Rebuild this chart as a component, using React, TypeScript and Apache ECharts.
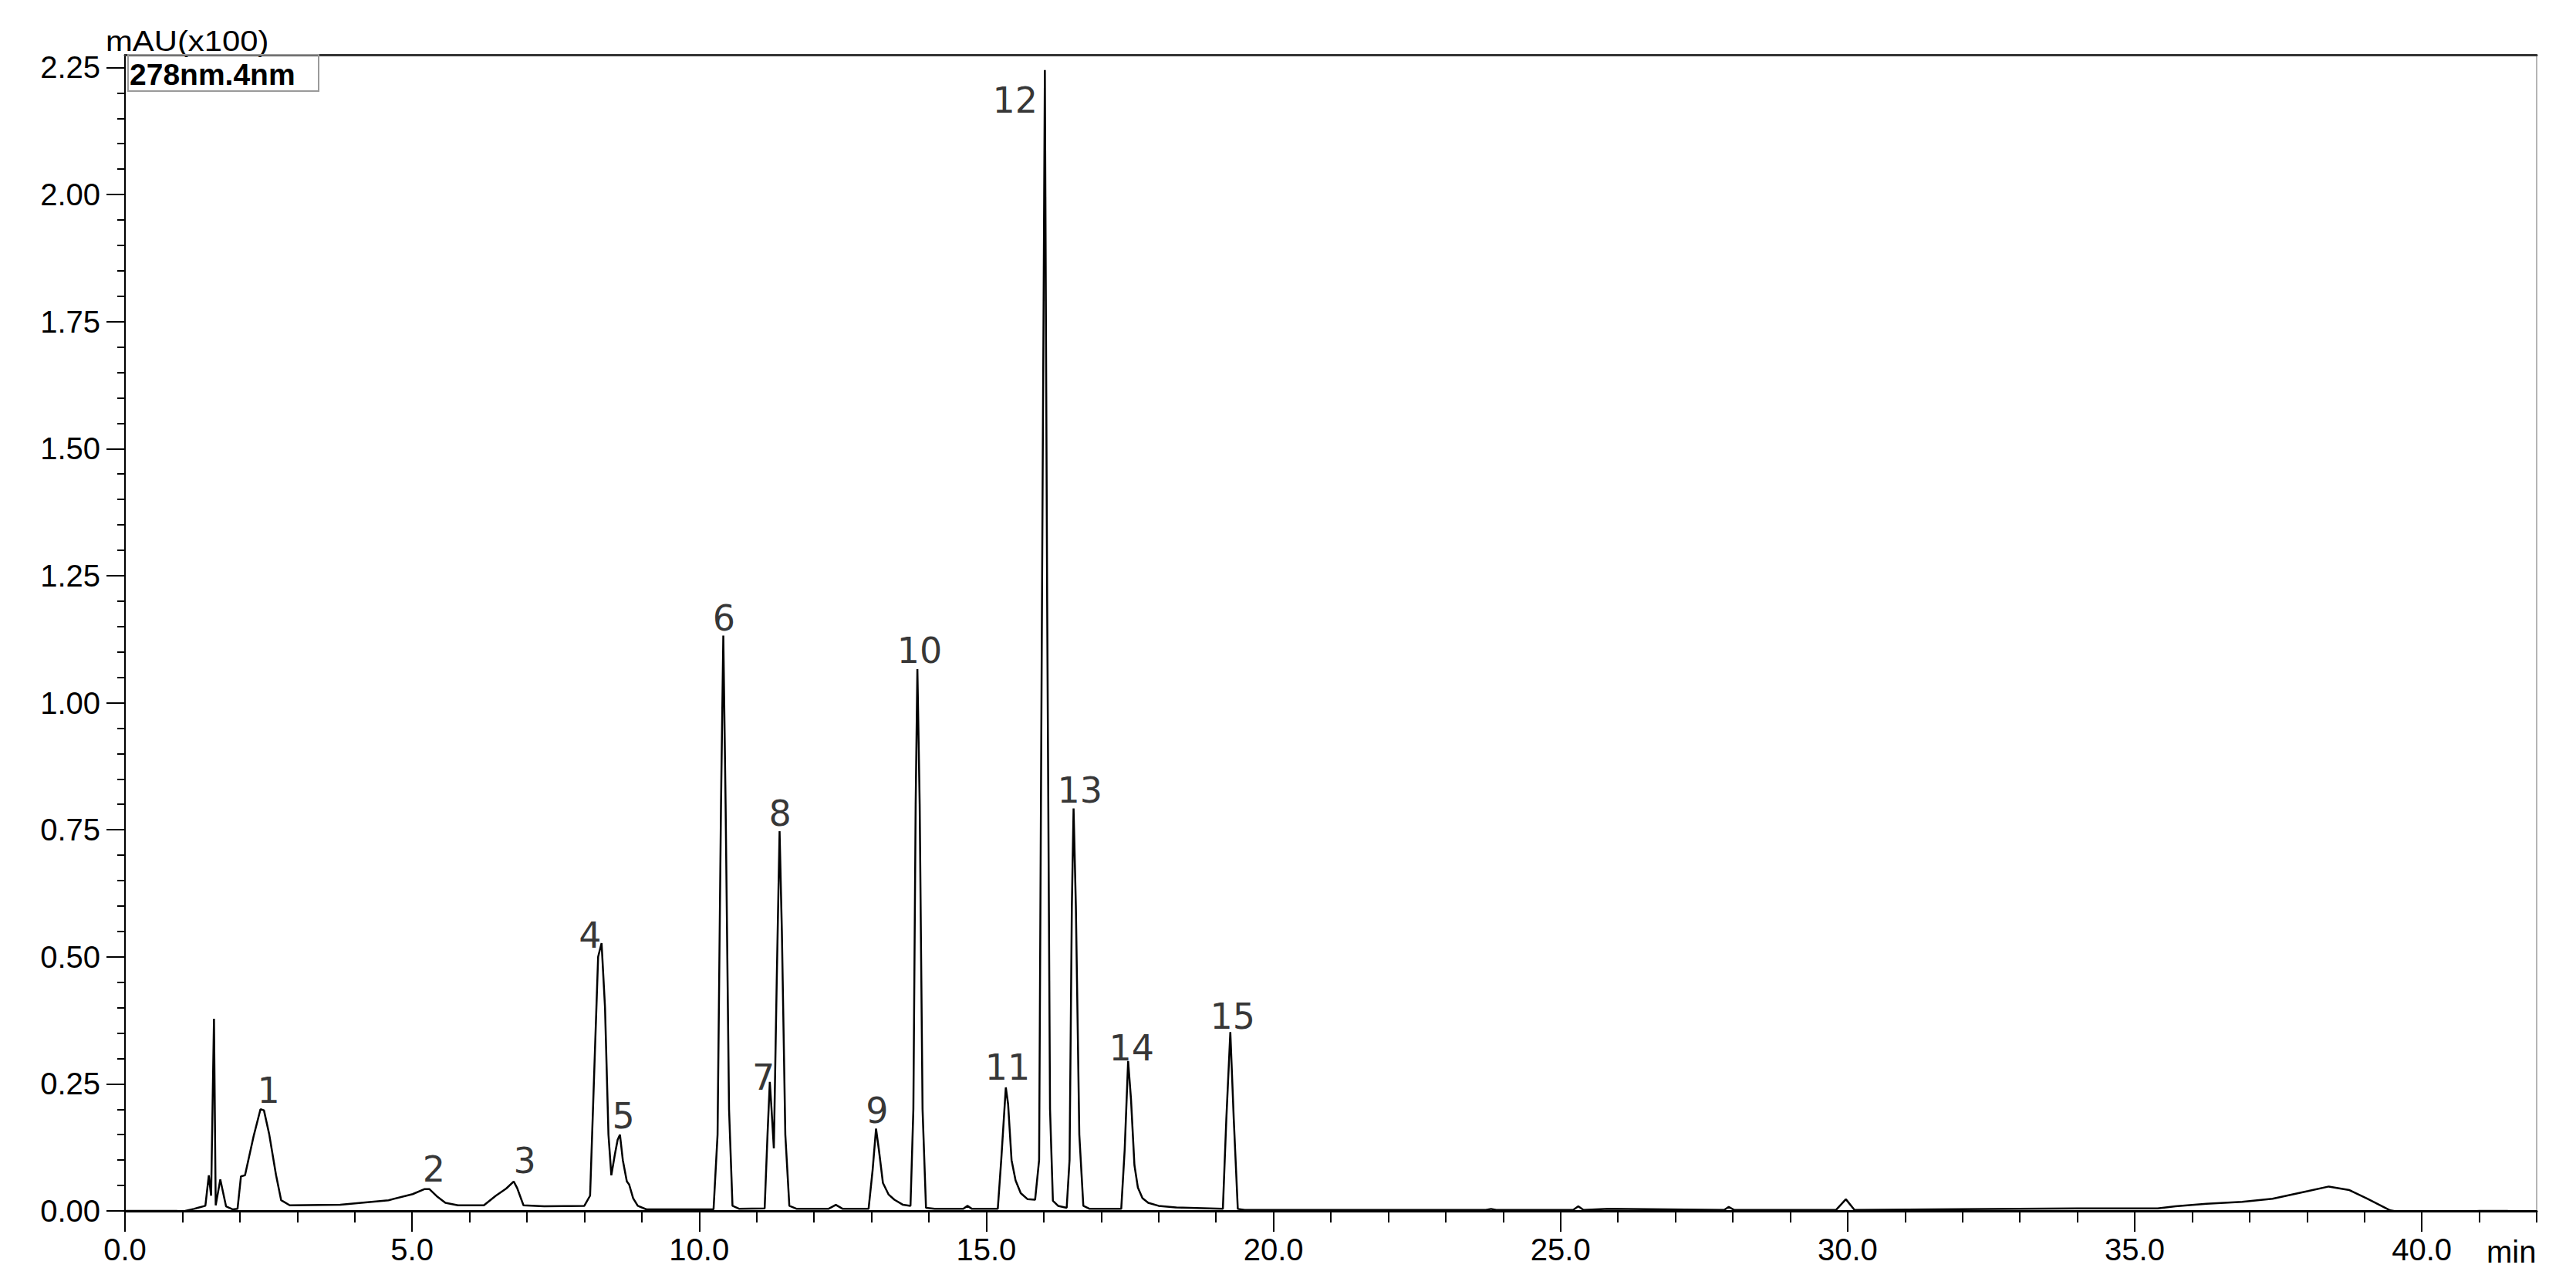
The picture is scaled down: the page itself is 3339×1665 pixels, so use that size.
import React, { useEffect, useRef } from "react";
import * as echarts from "echarts";

// Chromatogram trace (retention time in min, absorbance in mAU x100)
const traceTime = [
  0.0, 0.9, 0.98, 1.05, 1.2, 1.4, 1.46, 1.5, 1.55, 1.58, 1.66, 1.76, 1.88, 1.96, 2.02, 2.09,
  2.24, 2.36, 2.42, 2.51, 2.63, 2.72, 2.87, 3.75, 4.59, 5.01, 5.22, 5.3, 5.43, 5.58, 5.8, 6.25,
  6.46, 6.64, 6.77, 6.83, 6.94, 7.3, 8.0, 8.1, 8.18, 8.24, 8.3, 8.36, 8.42, 8.47, 8.53, 8.58,
  8.62, 8.67, 8.74, 8.78, 8.85, 8.93, 9.08, 10.25, 10.32, 10.38, 10.42, 10.46, 10.52, 10.58,
  10.7, 11.14, 11.19, 11.23, 11.26, 11.3, 11.35, 11.4, 11.44, 11.5, 11.57, 11.7, 12.25, 12.38,
  12.5, 12.95, 13.02, 13.08, 13.13, 13.2, 13.3, 13.4, 13.55, 13.68, 13.73, 13.77, 13.8, 13.84,
  13.89, 13.95, 14.1, 14.6, 14.67, 14.75, 15.2, 15.26, 15.34, 15.38, 15.44, 15.51, 15.6, 15.72,
  15.85, 15.92, 15.97, 16.02, 16.06, 16.11, 16.16, 16.25, 16.4, 16.45, 16.49, 16.52, 16.56,
  16.62, 16.69, 16.8, 17.35, 17.41, 17.47, 17.52, 17.58, 17.64, 17.72, 17.82, 18.0, 18.3,
  19.12, 19.18, 19.25, 19.31, 19.38, 19.5, 23.7, 23.79, 23.88, 25.22, 25.31, 25.4, 25.84,
  27.85, 27.93, 28.02, 29.8, 29.97, 30.12, 34.0, 35.4, 35.71, 36.25, 36.87, 37.4, 38.02, 38.38,
  38.74, 39.05, 39.45, 39.72, 40.07, 40.43, 40.69, 41.0, 41.5,
];
const traceSignal = [
  0.0, 0.0, -0.004, 0.0, 0.004, 0.01, 0.07, 0.03, 0.378, 0.011, 0.062, 0.009, 0.003, 0.004,
  0.068, 0.07, 0.147, 0.2, 0.198, 0.152, 0.071, 0.021, 0.011, 0.012, 0.021, 0.033, 0.043, 0.043,
  0.029, 0.016, 0.011, 0.011, 0.03, 0.044, 0.058, 0.045, 0.011, 0.009, 0.01, 0.03, 0.3, 0.5,
  0.527, 0.4, 0.15, 0.07, 0.11, 0.14, 0.15, 0.1, 0.058, 0.052, 0.025, 0.01, 0.003, 0.003, 0.15,
  0.8, 1.132, 0.8, 0.2, 0.01, 0.004, 0.005, 0.15, 0.254, 0.2, 0.123, 0.45, 0.747, 0.55, 0.15,
  0.01, 0.004, 0.004, 0.012, 0.004, 0.004, 0.08, 0.162, 0.12, 0.055, 0.032, 0.022, 0.012, 0.01,
  0.2, 0.8, 1.066, 0.8, 0.2, 0.006, 0.004, 0.004, 0.01, 0.004, 0.004, 0.1, 0.243, 0.21, 0.1,
  0.06, 0.035, 0.023, 0.022, 0.1, 1.2, 2.245, 1.2, 0.2, 0.02, 0.01, 0.006, 0.1, 0.6, 0.792, 0.6,
  0.15, 0.01, 0.004, 0.004, 0.12, 0.295, 0.22, 0.09, 0.046, 0.025, 0.016, 0.01, 0.007, 0.004,
  0.18, 0.352, 0.18, 0.004, 0.002, 0.002, 0.004, 0.002, 0.002, 0.009, 0.002, 0.004, 0.002,
  0.008, 0.002, 0.002, 0.023, 0.002, 0.005, 0.005, 0.009, 0.014, 0.018, 0.024, 0.039, 0.048,
  0.041, 0.024, 0.001, -0.004, -0.007, -0.004, -0.002, 0.0, 0.0,
];

// Peak numbers and where their labels sit (data coordinates)
const peakNames = ["1", "2", "3", "4", "5", "6", "7", "8", "9", "10", "11", "12", "13", "14", "15"];
const peakLabelX = [2.5, 5.38, 6.96, 8.1, 8.68, 10.43, 11.12, 11.41, 13.1, 13.84, 15.37, 15.5, 16.63, 17.53, 19.29];
const peakLabelY = [0.237, 0.082, 0.099, 0.542, 0.187, 1.166, 0.263, 0.782, 0.197, 1.103, 0.282, 2.185, 0.827, 0.321, 0.382];

// Axis ticks
const xTicks = [0, 5, 10, 15, 20, 25, 30, 35, 40];
const xMinorTicks = [1, 2, 3, 4, 6, 7, 8, 9, 11, 12, 13, 14, 16, 17, 18, 19, 21, 22, 23, 24, 26, 27, 28, 29, 31, 32, 33, 34, 36, 37, 38, 39, 41, 42];
const yTicks = [0, 0.25, 0.5, 0.75, 1.0, 1.25, 1.5, 1.75, 2.0, 2.25];
const yMinorTicks = [
  0.05, 0.1, 0.15, 0.2, 0.3, 0.35, 0.4, 0.45, 0.55, 0.6, 0.65, 0.7, 0.8, 0.85, 0.9, 0.95,
  1.05, 1.1, 1.15, 1.2, 1.3, 1.35, 1.4, 1.45, 1.55, 1.6, 1.65, 1.7, 1.8, 1.85, 1.9, 1.95,
  2.05, 2.1, 2.15, 2.2,
];

const X_MIN = 0;
const X_MAX = 42;
const Y_MIN = 0;
const Y_MAX = 2.275;

export default function App() {
  const ref = useRef<HTMLDivElement>(null);

  useEffect(() => {
    document.body.style.margin = "0";
    if (!ref.current) return;
    const chart = echarts.init(ref.current, null, { renderer: "svg" });

    const trace = traceTime.map((t, i) => [t, traceSignal[i]]);
    const labels = peakNames.map((n, i) => ({ name: n, value: [peakLabelX[i], peakLabelY[i]] }));

    const tickFont = "Liberation Sans";

    chart.setOption({
      animation: false,
      backgroundColor: "#ffffff",
      grid: { left: 162, right: 51, top: 71, bottom: 96, containLabel: false },
      xAxis: [
        {
          type: "value",
          min: X_MIN,
          max: X_MAX,
          position: "bottom",
          axisLine: { show: true, onZero: false, lineStyle: { color: "#000", width: 3 } },
          axisTick: { show: true, customValues: xTicks, length: 27, lineStyle: { color: "#000", width: 2 } },
          axisLabel: {
            show: true,
            customValues: xTicks,
            formatter: (v: number) => v.toFixed(1),
            fontSize: 40,
            fontFamily: tickFont,
            color: "#000",
            margin: 30,
          },
          splitLine: { show: false },
        },
        {
          type: "value",
          min: X_MIN,
          max: X_MAX,
          position: "bottom",
          axisLine: { show: false, onZero: false },
          axisTick: { show: true, customValues: xMinorTicks, length: 15, lineStyle: { color: "#000", width: 2 } },
          axisLabel: { show: false },
          splitLine: { show: false },
        },
        {
          type: "value",
          min: X_MIN,
          max: X_MAX,
          position: "top",
          axisLine: { show: true, onZero: false, lineStyle: { color: "#333", width: 3 } },
          axisTick: { show: false },
          axisLabel: { show: false },
          splitLine: { show: false },
        },
      ],
      yAxis: [
        {
          type: "value",
          min: Y_MIN,
          max: Y_MAX,
          position: "left",
          axisLine: { show: true, onZero: false, lineStyle: { color: "#000", width: 2 } },
          axisTick: { show: true, customValues: yTicks, length: 24, lineStyle: { color: "#000", width: 2 } },
          axisLabel: {
            show: true,
            customValues: yTicks,
            formatter: (v: number) => v.toFixed(2),
            fontSize: 40,
            fontFamily: tickFont,
            color: "#000",
            margin: 32,
          },
          splitLine: { show: false },
        },
        {
          type: "value",
          min: Y_MIN,
          max: Y_MAX,
          position: "left",
          axisLine: { show: false, onZero: false },
          axisTick: { show: true, customValues: yMinorTicks, length: 10, lineStyle: { color: "#000", width: 2 } },
          axisLabel: { show: false },
          splitLine: { show: false },
        },
        {
          type: "value",
          min: Y_MIN,
          max: Y_MAX,
          position: "right",
          axisLine: { show: true, onZero: false, lineStyle: { color: "#b5b5b5", width: 2 } },
          axisTick: { show: false },
          axisLabel: { show: false },
          splitLine: { show: false },
        },
      ],
      series: [
        {
          type: "line",
          xAxisIndex: 0,
          yAxisIndex: 0,
          data: trace,
          showSymbol: false,
          symbol: "none",
          smooth: false,
          clip: true,
          lineStyle: { color: "#000", width: 2.5 },
          z: 3,
        },
        {
          type: "scatter",
          xAxisIndex: 0,
          yAxisIndex: 0,
          data: labels,
          symbolSize: 1,
          itemStyle: { color: "rgba(0,0,0,0)" },
          label: {
            show: true,
            position: "inside",
            formatter: (p: any) => p.name,
            fontSize: 46,
            fontFamily: "DejaVu Sans",
            color: "#000",
          },
          z: 4,
        },
      ],
      graphic: [
        {
          type: "text",
          x: 137,
          y: 53,
          scaleX: 1.13,
          style: {
            text: "mAU(x100)",
            fontSize: 37,
            fontFamily: tickFont,
            fill: "#000",
            textVerticalAlign: "middle",
          },
        },
        {
          type: "rect",
          shape: { x: 166, y: 71, width: 247, height: 47 },
          style: { fill: "rgba(255,255,255,0)", stroke: "#9a9a9a", lineWidth: 2 },
          z: 10,
        },
        {
          type: "text",
          x: 168,
          y: 96,
          style: {
            text: "278nm.4nm",
            fontSize: 39,
            fontWeight: "bold",
            fontFamily: tickFont,
            fill: "#000",
            textVerticalAlign: "middle",
          },
          z: 11,
        },
        {
          type: "text",
          x: 3223,
          y: 1622,
          style: {
            text: "min",
            fontSize: 40,
            fontFamily: tickFont,
            fill: "#000",
            textVerticalAlign: "middle",
          },
        },
      ],
    });

    return () => {
      chart.dispose();
    };
  }, []);

  return (
    <div
      ref={ref}
      style={{ position: "absolute", left: 0, top: 0, width: "3339px", height: "1665px", background: "#fff" }}
    />
  );
}
